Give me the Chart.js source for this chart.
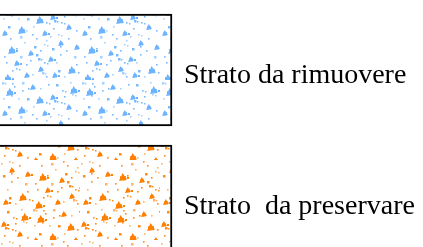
<!DOCTYPE html>
<html>
<head>
<meta charset="utf-8">
<script src="https://cdn.jsdelivr.net/npm/chart.js@4"></script>
<style>
  html, body { margin: 0; padding: 0; background: #fff; overflow: hidden; }
  #wrap { width: 423px; height: 247px; }
</style>
</head>
<body>
<div id="wrap"><canvas id="chart" width="423" height="247"></canvas></div>
<script>
// Data
const layerLabels = ['Strato da rimuovere', 'Strato  da preservare'];
const layerCenters = [70, 201];
const layerStart = [-2, -2];
const layerEnd = [172, 172];
const layerColors = ['#6cb4ff', '#ff8000'];

// Speckle texture tile (style only)
const TILE = 80;
const blobs = [[6,8],[30,4],[50,14],[18,26],[42,30],[58,40],[8,46],[28,50],[48,56],[36,16],[14,60],[2,30],
  [70,6],[66,24],[74,44],[68,66],[52,72],[24,72],[4,74],[38,66]];
const specks = [[2,2],[12,3],[22,10],[40,8],[56,4],[61,22],[3,18],[11,15],[27,18],[33,26],[46,22],[53,28],
  [20,36],[10,38],[36,38],[44,44],[52,48],[60,54],[24,42],[16,48],[38,58],[56,62],[4,56],[30,60],
  [20,56],[62,10],[48,4],[26,30],[8,26],[40,50],[58,34],[14,6],[34,46],[50,36],[6,62],[44,62],
  [22,2],[60,46],[28,8],[18,18],[54,20],[32,34],[46,40],[12,52],[36,54],
  [72,14],[76,30],[68,38],[74,56],[66,50],[78,72],[64,76],[58,70],[46,76],[32,74],[16,68],[8,78],
  [70,2],[64,16],[76,64],[42,72],[26,64],[12,70]];

function makePattern(color, dx, dy) {
  const c = document.createElement('canvas');
  c.width = TILE; c.height = TILE;
  const g = c.getContext('2d');
  g.fillStyle = '#fff';
  g.fillRect(0, 0, TILE, TILE);
  g.fillStyle = color;
  blobs.forEach(([x, y], i) => {
    x = (x + dx) % TILE; y = (y + dy) % TILE;
    const s = i % 3 === 0 ? 8 : 6;
    g.beginPath();
    g.moveTo(x, y + s);
    g.lineTo(x + s * 0.45, y);
    g.lineTo(x + s, y + s * 0.8);
    g.closePath();
    g.fill();
    g.fillRect(x + 1, y + s * 0.4, s - 2, s * 0.5);
    if (i % 2 === 0) g.fillRect(x + s, y + s * 0.5, 2, 2);
  });
  specks.forEach(([x, y], i) => {
    x = (x + dx) % TILE; y = (y + dy) % TILE;
    g.globalAlpha = i % 3 === 0 ? 0.6 : 0.9;
    const s = i % 4 === 0 ? 2.5 : 1.6;
    g.fillRect(x, y, s, s);
    if (i % 5 === 0) g.fillRect(x + 3, y + 1, 1.5, 1.5);
  });
  g.globalAlpha = 1;
  return g.createPattern(c, 'repeat');
}

const ctx = document.getElementById('chart').getContext('2d');
const patterns = [makePattern(layerColors[0], 0, 0), makePattern(layerColors[1], 31, 47)];

const labelPlugin = {
  id: 'layerLabels',
  afterDatasetsDraw(chart) {
    const meta = chart.getDatasetMeta(0);
    const c = chart.ctx;
    c.save();
    c.fillStyle = '#000';
    c.font = '28px "Liberation Serif", "Times New Roman", serif';
    c.textBaseline = 'alphabetic';
    c.textAlign = 'left';
    meta.data.forEach((bar, i) => {
      c.fillText(layerLabels[i].replace(/ /g, '\u00a0'), 184, bar.y + 13);
    });
    c.restore();
  }
};

new Chart(ctx, {
  type: 'bar',
  data: {
    datasets: [{
      data: layerCenters.map((y, i) => ({ y: y, x: [layerStart[i], layerEnd[i]] })),
      backgroundColor: patterns,
      borderColor: '#000',
      borderWidth: 2,
      borderSkipped: false,
      barThickness: 112
    }]
  },
  options: {
    indexAxis: 'y',
    responsive: false,
    animation: false,
    layout: { padding: 0 },
    plugins: { legend: { display: false }, tooltip: { enabled: false } },
    scales: {
      x: { type: 'linear', min: 0, max: 423, display: false, offset: false },
      y: { type: 'linear', min: 0, max: 247, reverse: true, display: false, offset: false }
    }
  },
  plugins: [labelPlugin]
});
</script>
</body>
</html>
